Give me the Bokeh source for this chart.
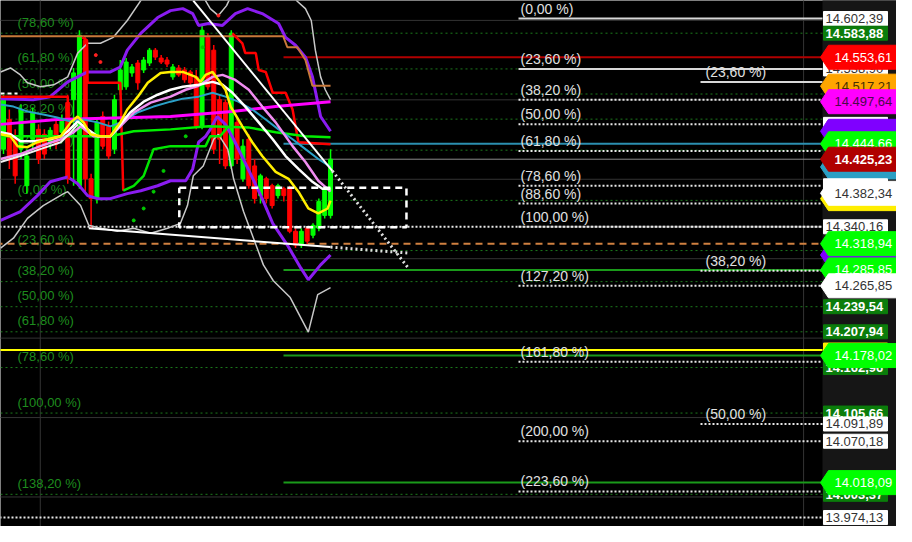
from bokeh.plotting import figure
from bokeh.models import Range1d
from bokeh.core.properties import value
from bokeh.embed import file_html
from bokeh.resources import INLINE

# ---------------- data ----------------
bar_index = list(range(57))
bar_open = [14437.9, 14475.3, 14450.4, 14437.9, 14391.9, 14450.4, 14462.9, 14456.6, 14446.7, 14469.1,
            14459.1, 14496.5, 14500.2, 14391.9, 14575.0, 14400.6, 14375.7, 14479.1, 14466.6, 14437.9,
            14512.7, 14516.4, 14533.9, 14546.3, 14537.6, 14546.3, 14562.5, 14552.6, 14550.1, 14528.9,
            14540.1, 14537.6, 14535.1, 14528.9, 14466.6, 14578.9, 14562.5, 14500.2, 14496.5, 14416.8,
            14471.6, 14400.6, 14450.4, 14416.8, 14379.4, 14400.6, 14391.9, 14379.4, 14388.1, 14388.1,
            14334.5, 14317.1, 14338.3, 14329.6, 14338.3, 14354.5, 14354.5]
bar_high = [14506.5, 14487.8, 14462.9, 14494.0, 14437.9, 14490.3, 14469.1, 14462.9, 14465.4, 14475.3,
            14481.6, 14506.5, 14540.1, 14587.6, 14578.9, 14406.8, 14475.3, 14485.3, 14472.8, 14506.5,
            14550.1, 14552.6, 14545.1, 14550.1, 14553.8, 14565.1, 14565.1, 14556.3, 14553.8, 14545.1,
            14543.9, 14541.4, 14537.6, 14537.6, 14593.9, 14583.9, 14568.9, 14506.5, 14500.2, 14587.6,
            14475.3, 14450.4, 14456.6, 14425.5, 14406.8, 14403.1, 14394.3, 14394.3, 14390.6, 14391.9,
            14338.3, 14338.3, 14340.8, 14344.5, 14375.7, 14390.6, 14437.9]
bar_low = [14431.7, 14413.0, 14394.3, 14425.5, 14381.9, 14437.9, 14419.2, 14425.5, 14437.9, 14437.9,
           14450.4, 14394.3, 14391.9, 14388.1, 14381.9, 14338.3, 14369.4, 14437.9, 14425.5, 14431.7,
           14506.5, 14512.7, 14528.9, 14512.7, 14533.9, 14542.6, 14550.1, 14545.1, 14541.4, 14525.2,
           14528.9, 14521.4, 14518.9, 14462.9, 14462.9, 14512.7, 14431.7, 14419.2, 14413.0, 14413.0,
           14419.2, 14396.8, 14388.1, 14369.4, 14369.4, 14369.4, 14363.2, 14375.7, 14371.9, 14332.0,
           14313.4, 14313.4, 14318.4, 14325.8, 14334.5, 14350.7, 14350.7]
bar_close = [14500.2, 14425.5, 14404.3, 14487.8, 14429.2, 14484.0, 14425.5, 14431.7, 14461.6, 14444.2,
             14475.3, 14400.6, 14533.9, 14581.4, 14400.6, 14375.7, 14471.6, 14441.7, 14429.2, 14500.2,
             14537.6, 14547.6, 14541.4, 14521.4, 14550.1, 14562.5, 14553.8, 14547.6, 14545.1, 14541.4,
             14531.4, 14525.2, 14521.4, 14466.6, 14587.6, 14516.4, 14437.9, 14450.4, 14416.8, 14583.9,
             14425.5, 14441.7, 14391.9, 14375.7, 14404.3, 14375.7, 14366.9, 14391.9, 14379.4, 14334.5,
             14317.1, 14334.5, 14322.1, 14342.0, 14371.9, 14388.1, 14425.23]

purple_up_x = [-0.5, 5.1, 8.0, 11.0, 14.4, 18.3, 20.0, 21.2, 23.5, 26.4, 28.6, 30.7, 32.4, 33.4, 35.1, 37.5,
               39.7, 41.8, 44.3, 47.1, 48.3, 50.0, 51.7, 52.9, 54.3, 56.0]
purple_up_y = [14501.5, 14500.2, 14504.0, 14522.6, 14535.1, 14535.1, 14541.3, 14562.5, 14583.7, 14603.6,
               14612.3, 14614.8, 14608.6, 14593.7, 14596.1, 14593.7, 14608.6, 14614.8, 14608.6, 14596.1,
               14578.7, 14568.7, 14553.8, 14528.9, 14479.0, 14460.4]
purple_lo_x = [-0.5, 2.9, 5.8, 8.0, 11.0, 12.7, 14.4, 16.1, 18.3, 21.2, 23.5, 26.4, 28.6, 31.2, 32.4, 33.4,
               34.6, 35.4, 36.6, 38.0, 39.4, 42.3, 44.3, 46.1, 48.6, 50.9, 52.2, 54.3, 56.0]
purple_lo_y = [14348.2, 14359.4, 14379.4, 14396.8, 14403.0, 14394.3, 14379.4, 14375.6, 14375.6, 14381.9,
               14385.6, 14391.8, 14398.1, 14398.1, 14413.0, 14446.6, 14454.1, 14462.8, 14479.0, 14469.1,
               14450.4, 14406.8, 14375.6, 14344.5, 14317.1, 14288.4, 14273.5, 14292.2, 14304.6]
gray_up_x = [-0.5, 1.2, 2.9, 4.1, 6.3, 8.6, 11.0, 12.7, 14.4, 16.6, 18.8, 21.2, 23.5, 26.9, 34.1, 35.4,
             36.8, 38.2, 40.6, 47.4, 50.2, 51.7, 52.7, 53.4, 54.3, 55.1, 56.0]
gray_up_y = [14535.1, 14540.1, 14531.4, 14521.4, 14516.4, 14518.9, 14528.9, 14558.8, 14571.2, 14571.2,
             14578.7, 14599.9, 14624.8, 14662.2, 14631.0, 14614.8, 14606.1, 14618.6, 14656.0, 14656.0,
             14624.8, 14614.8, 14599.9, 14562.5, 14528.9, 14512.7, 14500.2]
gray_lo_x = [-0.5, 1.7, 4.1, 6.8, 10.3, 11.0, 13.2, 14.6, 16.6, 19.5, 22.3, 25.2, 28.1, 30.3, 31.5, 32.5,
             34.2, 36.0, 36.8, 38.4, 39.4, 41.1, 42.8, 44.5, 46.2, 49.1, 52.2, 53.8, 56.0]
gray_lo_y = [14313.3, 14325.8, 14350.7, 14366.9, 14381.9, 14384.4, 14366.9, 14342.0, 14338.3, 14334.5,
             14338.3, 14332.0, 14338.3, 14344.5, 14366.9, 14404.3, 14416.8, 14450.4, 14456.6, 14437.9,
             14400.6, 14359.4, 14325.8, 14292.2, 14272.2, 14251.1, 14207.5, 14254.8, 14263.5]
yellow_x = [-0.5, 1.2, 2.4, 4.1, 5.8, 7.5, 9.8, 11.5, 12.7, 13.7, 14.9, 16.6, 18.3, 20.0, 21.2, 23.0, 24.7,
            26.9, 28.6, 30.7, 32.9, 33.7, 34.6, 35.8, 36.8, 38.0, 38.9, 40.9, 42.6, 44.3, 46.6, 48.8, 50.5,
            52.2, 53.9, 55.5, 56.0]
yellow_y = [14456.6, 14454.1, 14441.7, 14440.4, 14446.6, 14450.4, 14454.1, 14471.6, 14479.0, 14471.6,
            14456.6, 14454.1, 14454.1, 14471.6, 14487.8, 14504.0, 14521.4, 14533.9, 14535.1, 14535.1,
            14528.9, 14522.6, 14531.4, 14535.1, 14525.1, 14512.7, 14491.5, 14466.6, 14446.6, 14429.2,
            14409.3, 14400.6, 14384.4, 14363.2, 14357.0, 14363.2, 14373.1]
white_x = [-0.5, 1.2, 2.9, 5.1, 8.0, 9.8, 11.0, 12.7, 14.4, 16.1, 18.3, 20.0, 21.7, 24.0, 26.4, 28.6, 30.7,
           33.4, 35.8, 37.5, 39.2, 41.4, 43.7, 46.1, 48.3, 50.5, 52.9, 54.6, 56.0]
white_y = [14459.1, 14456.6, 14447.9, 14447.9, 14450.4, 14454.1, 14460.4, 14472.8, 14462.8, 14454.1,
           14454.1, 14469.1, 14484.0, 14497.7, 14506.4, 14512.7, 14516.4, 14518.9, 14522.6, 14518.9,
           14508.9, 14491.5, 14471.6, 14450.4, 14429.2, 14413.0, 14396.8, 14388.1, 14388.1]
white2_x = [-0.5, 2.9, 6.3, 9.8, 11.5, 12.7]
white2_y = [14421.7, 14429.2, 14437.9, 14446.6, 14459.1, 14469.1]
pink_x = [-0.5, 2.9, 6.3, 9.8, 12.0, 13.2, 15.4, 18.3, 20.0, 22.3, 25.2, 28.6, 31.2, 33.4, 35.8, 37.5, 39.7,
          42.0, 44.3, 46.6, 49.5, 51.7, 53.9, 56.0]
pink_y = [14425.5, 14431.7, 14441.7, 14450.4, 14459.1, 14466.6, 14454.1, 14454.1, 14466.6, 14484.0,
          14496.5, 14504.0, 14512.7, 14517.7, 14528.9, 14531.4, 14525.1, 14512.7, 14491.5, 14471.6,
          14441.7, 14421.7, 14398.1, 14384.4]
teal_x = [-0.5, 1.7, 4.1, 6.8, 9.2, 11.5, 13.7, 16.1, 18.3, 20.5, 22.9, 25.7, 28.6, 30.7, 33.4, 35.8, 38.0,
          40.2, 42.6, 44.9, 47.1, 49.5, 51.7, 53.9, 56.0]
teal_y = [14494.0, 14491.5, 14485.3, 14481.5, 14477.8, 14472.8, 14475.3, 14471.6, 14466.6, 14472.8,
          14484.0, 14491.5, 14497.7, 14501.5, 14504.0, 14508.9, 14504.0, 14497.7, 14487.8, 14475.3,
          14462.8, 14450.4, 14437.9, 14425.5, 14415.5]
magenta_x = [-0.5, 9.2, 28.6, 39.2, 46.6, 56.0]
magenta_y = [14469.1, 14475.3, 14479.0, 14485.3, 14491.5, 14497.7]
green_ma_x = [-0.5, 11.0, 18.3, 22.3, 28.6, 35.1, 41.9, 46.6, 51.7, 56.0]
green_ma_y = [14454.1, 14454.1, 14454.1, 14460.4, 14462.8, 14466.6, 14465.3, 14459.1, 14454.1, 14452.9]
st_red_a_x = [-0.5, 11.0, 11.2]
st_red_a_y = [14504.0, 14504.0, 14400.6]
st_red_b_x = [13.5, 14.3, 14.4, 20.0, 20.5]
st_red_b_y = [14578.7, 14575.0, 14521.4, 14521.4, 14385.6]
st_green_x = [20.5, 22.3, 24.0, 25.7, 28.6, 34.6, 35.4, 37.1, 38.5]
st_green_y = [14385.6, 14391.8, 14404.3, 14437.9, 14441.7, 14441.7, 14454.1, 14454.1, 14466.6]
st_red_c_x = [39.2, 40.9, 41.4, 43.2, 43.7, 44.9, 46.1, 48.3, 49.5, 50.5, 56.0]
st_red_c_y = [14583.7, 14571.2, 14558.8, 14558.8, 14537.6, 14535.1, 14508.9, 14508.9, 14487.8, 14446.6, 14444.2]
brown_x = [-0.5, 47.9, 48.6, 50.3, 51.7, 52.9, 56.0]
brown_y = [14580.0, 14580.0, 14566.2, 14566.2, 14550.1, 14517.7, 14517.7]
sar_green_x = [22.3, 24.0, 25.7, 27.4, 31.2, 34.1]
sar_green_y = [14348.2, 14363.2, 14384.4, 14410.5, 14454.1, 14566.2]
sar_red_x = [15.8, 16.6, 36.8]
sar_red_y = [14556.3, 14547.6, 14606.1]

# trend lines (bar, price)
trend_down_x = [32.5, 56.3, 69.3]
trend_down_y = [14624.8, 14410.5, 14288.4]
trend_low_x = [14.6, 56.0, 69.3]
trend_low_y = [14338.3, 14314.6, 14307.1]
box_x = [30.1, 69.0]
box_y = [14339.6, 14389.4]

# Fibonacci sets
left_fib_prices = [14583.88, 14538.90, 14507.30, 14475.70, 14436.61, 14373.42, 14310.23, 14271.14,
                   14239.54, 14207.94, 14162.96, 14105.66, 14003.37]
left_fib_texts = ["(78,60 %)", "(61,80 %)", "(50,00 %)", "(38,20 %)", "(23,60 %)", "(0,00 %)", "(23,60 %)",
                  "(38,20 %)", "(50,00 %)", "(61,80 %)", "(78,60 %)", "(100,00 %)", "(138,20 %)"]
fib1_prices = [14602.39, 14538.90, 14500.20, 14469.10, 14435.50, 14391.80, 14369.40, 14340.16,
               14265.85, 14170.10, 14070.18, 14006.90]
fib1_texts = ["(0,00 %)", "(23,60 %)", "(38,20 %)", "(50,00 %)", "(61,80 %)", "(78,60 %)", "(88,60 %)",
              "(100,00 %)", "(127,20 %)", "(161,80 %)", "(200,00 %)", "(223,60 %)"]
fib2_prices = [14522.60, 14284.90, 14091.89]
fib2_texts = ["(23,60 %)", "(38,20 %)", "(50,00 %)"]

grid_prices = [14600, 14500, 14400, 14300, 14200, 14100, 14000]
grid_bars = [6.3, 137.0]

# level lines
lvl_red = 14553.61
lvl_teal = 14444.66
lvl_last = 14425.23
lvl_orange = 14318.94
lvl_green1 = 14285.85
lvl_yellow = 14185.00
lvl_green2 = 14178.02
lvl_green3 = 14018.09
lvl_white_full = [14340.16, 13974.13]

# price-scale tags
axis_values = [14602.39, 14583.88, 14538.90, 14553.61, 14517.21, 14497.64, 14469.10, 14460.40, 14444.66,
               14415.50, 14425.23, 14375.60, 14391.80, 14382.34, 14340.16, 14304.60, 14318.94, 14285.85,
               14265.85, 14239.54, 14207.94, 14185.00, 14162.96, 14178.02, 14105.66, 14091.89, 14070.18,
               14003.37, 14018.09, 13974.13]
axis_texts = ["14.602,39", "14.583,88", "14.538,90", "14.553,61", "14.517,21", "14.497,64", "14.469,10", "",
              "14.444,66", "", "14.425,23", "", "", "14.382,34", "14.340,16", "", "14.318,94", "14.285,85",
              "14.265,85", "14.239,54", "14.207,94", "", "14.162,96", "14.178,02", "14.105,66", "14.091,89",
              "14.070,18", "14.003,37", "14.018,09", "13.974,13"]
axis_kinds = ["s", "s", "s", "b", "b", "b", "s", "b", "b", "b", "b", "b", "s", "b", "s", "b", "b", "b",
              "b", "s", "s", "s", "s", "b", "s", "s", "s", "s", "b", "s"]
axis_fills = ["#ffffff", "#0b7d0b", "#ffffff", "#ff0000", "#ffa500", "#ff00ff", "#ffffff", "#7f00ff",
              "#00ff00", "#2b9fc4", "#b00000", "#ffee00", "#ffffff", "#ffffff", "#ffffff", "#7f00ff",
              "#00ff00", "#00ff00", "#ffffff", "#0b7d0b", "#0b7d0b", "#ffee00", "#0b7d0b", "#00ff00",
              "#0b7d0b", "#ffffff", "#ffffff", "#0b7d0b", "#00ff00", "#ffffff"]
axis_tcolors = ["#333333", "#ffffff", "#333333", "#ffffff", "#4a3000", "#4b0a4b", "#333333", "#ffffff",
                "#ffffff", "#ffffff", "#ffffff", "#333333", "#333333", "#333333", "#333333", "#ffffff",
                "#ffffff", "#ffffff", "#333333", "#ffffff", "#ffffff", "#333333", "#ffffff", "#ffffff",
                "#ffffff", "#333333", "#333333", "#ffffff", "#ffffff", "#333333"]
axis_bold = [False, True, False, False, False, False, False, False, False, False, True, False, False, False,
             False, False, False, False, False, True, True, False, True, False, True, False, False, True,
             False, False]

# ---------------- layout helpers ----------------
PX0, BARW = 3.0, 5.84          # pixel of bar 0, pixels per bar
Y0, P0, PXPT = 18.0, 14602.39, 0.7943


def xb(px):
    return (px - PX0) / BARW


def py(ypx):
    return P0 - (ypx - Y0) / PXPT


def dp(pxh):
    return pxh / PXPT


FONT = value("Liberation Sans")
X_END = xb(822)

p = figure(width=896, height=526, x_range=Range1d(xb(0), xb(896)), y_range=Range1d(py(526), py(0)),
           output_backend="svg", toolbar_location=None, x_axis_type=None, y_axis_type=None,
           background_fill_color="#000000", border_fill_color="#000000", min_border=0,
           outline_line_color=None)
p.grid.visible = False

# price column background
p.quad(left=[X_END], right=[xb(903)], top=[py(-20)], bottom=[py(560)], fill_color="#161616", line_color=None)

# grid
p.segment(x0=[xb(-5)] * len(grid_prices), x1=[X_END] * len(grid_prices), y0=grid_prices, y1=grid_prices,
          line_color="#333333", line_width=1)
p.segment(x0=grid_bars, x1=grid_bars, y0=[py(-20)] * 2, y1=[py(560)] * 2, line_color="#333333", line_width=1)

# left fib (green dotted, full width)
n = len(left_fib_prices)
p.segment(x0=[xb(-5)] * n, x1=[X_END] * n, y0=left_fib_prices, y1=left_fib_prices,
          line_color="#1c7a1c", line_width=1, line_dash="2 3")
p.text(x=[xb(17)] * n, y=[v + dp(11) for v in left_fib_prices], text=left_fib_texts, text_font=FONT,
       text_font_size="13px", text_color="#1e8c1e", text_baseline="middle", text_align="left")

# level lines
p.segment(x0=[xb(-5)], x1=[X_END], y0=[lvl_last], y1=[lvl_last], line_color="#8c8c8c", line_width=1)
p.segment(x0=[xb(-5)], x1=[X_END], y0=[lvl_orange], y1=[lvl_orange], line_color="#d08040", line_width=2,
          line_dash="7 5")
p.segment(x0=[xb(-5)], x1=[X_END], y0=[lvl_yellow], y1=[lvl_yellow], line_color="#ffff00", line_width=2)
p.segment(x0=[xb(283)], x1=[X_END], y0=[lvl_red], y1=[lvl_red], line_color="#b00000", line_width=2)
p.segment(x0=[xb(283)], x1=[X_END], y0=[lvl_teal], y1=[lvl_teal], line_color="#2b8fb0", line_width=2)
for lv in (lvl_green1, lvl_green2, lvl_green3):
    p.segment(x0=[xb(283)], x1=[X_END], y0=[lv], y1=[lv], line_color="#1a9a1a", line_width=2)
m = len(lvl_white_full)
p.segment(x0=[xb(-5)] * m, x1=[X_END] * m, y0=lvl_white_full, y1=lvl_white_full,
          line_color="#e8e8e8", line_width=2, line_dash="2 2")
p.segment(x0=[xb(0)], x1=[xb(17)], y0=[py(93)], y1=[py(93)], line_color="#ffffff", line_width=2,
          line_dash="4 3")

# right fib set 1
for i, (v, t) in enumerate(zip(fib1_prices, fib1_texts)):
    if i < 2:
        p.segment(x0=[xb(518)], x1=[X_END], y0=[v], y1=[v], line_color="#d8d8d8", line_width=2)
    else:
        p.segment(x0=[xb(518)], x1=[X_END], y0=[v], y1=[v], line_color="#e8e8e8", line_width=2,
                  line_dash="2 2")
p.text(x=[xb(520)] * len(fib1_prices), y=[v + dp(10) for v in fib1_prices], text=fib1_texts, text_font=FONT,
       text_font_size="14px", text_color="#e0e0e0", text_baseline="middle", text_align="left")
# right fib set 2
for i, v in enumerate(fib2_prices):
    if i == 0:
        p.segment(x0=[xb(700)], x1=[X_END], y0=[v], y1=[v], line_color="#d8d8d8", line_width=2)
    else:
        p.segment(x0=[xb(700)], x1=[X_END], y0=[v], y1=[v], line_color="#e8e8e8", line_width=2,
                  line_dash="2 2")
p.text(x=[xb(705)] * len(fib2_prices), y=[v + dp(10) for v in fib2_prices], text=fib2_texts, text_font=FONT,
       text_font_size="14px", text_color="#e0e0e0", text_baseline="middle", text_align="left")

# candles
up = [c >= o for o, c in zip(bar_open, bar_close)]
cols = ["#00ff00" if u else "#ff0000" for u in up]
p.segment(x0=bar_index, x1=bar_index, y0=bar_low, y1=bar_high, line_color=cols, line_width=1.5)
p.vbar(x=bar_index, width=0.68, top=[max(o, c) for o, c in zip(bar_open, bar_close)],
       bottom=[min(o, c) for o, c in zip(bar_open, bar_close)], fill_color=cols, line_color=cols)

# bands & averages
p.line(gray_up_x, gray_up_y, line_color="#c8c8c8", line_width=1.5)
p.line(gray_lo_x, gray_lo_y, line_color="#c8c8c8", line_width=1.5)
p.line(purple_up_x, purple_up_y, line_color="#8a1cf0", line_width=3)
p.line(purple_lo_x, purple_lo_y, line_color="#8a1cf0", line_width=3)
p.line(brown_x, brown_y, line_color="#c8783a", line_width=2)
p.line(st_red_a_x, st_red_a_y, line_color="#ff0000", line_width=2.5)
p.line(st_red_b_x, st_red_b_y, line_color="#ff0000", line_width=2.5)
p.line(st_red_c_x, st_red_c_y, line_color="#ff0000", line_width=2.5)
p.line(st_green_x, st_green_y, line_color="#00e600", line_width=2.5)
p.line(green_ma_x, green_ma_y, line_color="#00ee00", line_width=2.5)
p.line(magenta_x, magenta_y, line_color="#ff00ff", line_width=3)
p.line(teal_x, teal_y, line_color="#2ba0c8", line_width=2)
p.line(pink_x, pink_y, line_color="#f08cf0", line_width=2.5)
p.line(white2_x, white2_y, line_color="#f0f0f0", line_width=2)
p.line(white_x, white_y, line_color="#ffffff", line_width=2.5)
p.line(yellow_x, yellow_y, line_color="#ffee00", line_width=2.5)
p.scatter(sar_green_x, sar_green_y, size=3, color="#00cc00")
p.scatter(sar_red_x, sar_red_y, size=3, color="#ff2020")

# trend lines and box
p.line(trend_down_x[:2], trend_down_y[:2], line_color="#ffffff", line_width=2)
p.line(trend_down_x[1:], trend_down_y[1:], line_color="#e0e0e0", line_width=3, line_dash="2 3")
p.line(trend_low_x[:2], trend_low_y[:2], line_color="#ffffff", line_width=2)
p.line(trend_low_x[1:], trend_low_y[1:], line_color="#e0e0e0", line_width=3, line_dash="2 3")
p.line([box_x[0], box_x[1], box_x[1], box_x[0], box_x[0]],
       [box_y[1], box_y[1], box_y[0], box_y[0], box_y[1]],
       line_color="#ffffff", line_width=2.5, line_dash="7 5")

# price tags
for v, t, k, f, tc, b in zip(axis_values, axis_texts, axis_kinds, axis_fills, axis_tcolors, axis_bold):
    if k == "b":
        h = dp(12)
        p.patch([xb(820), xb(828), xb(899), xb(899), xb(828)], [v, v + h, v + h, v - h, v - h],
                fill_color=f, line_color=f)
        tx = xb(834)
    else:
        h = dp(7)
        p.quad(left=[xb(823)], right=[xb(887)], top=[v + h], bottom=[v - h], fill_color=f, line_color=f)
        tx = xb(825)
    if t:
        p.text(x=[tx], y=[v], text=[t], text_font=FONT, text_font_size="13px", text_color=tc,
               text_font_style="bold" if b else "normal", text_baseline="middle", text_align="left")

open("out.html", "w").write(file_html(p, INLINE))
